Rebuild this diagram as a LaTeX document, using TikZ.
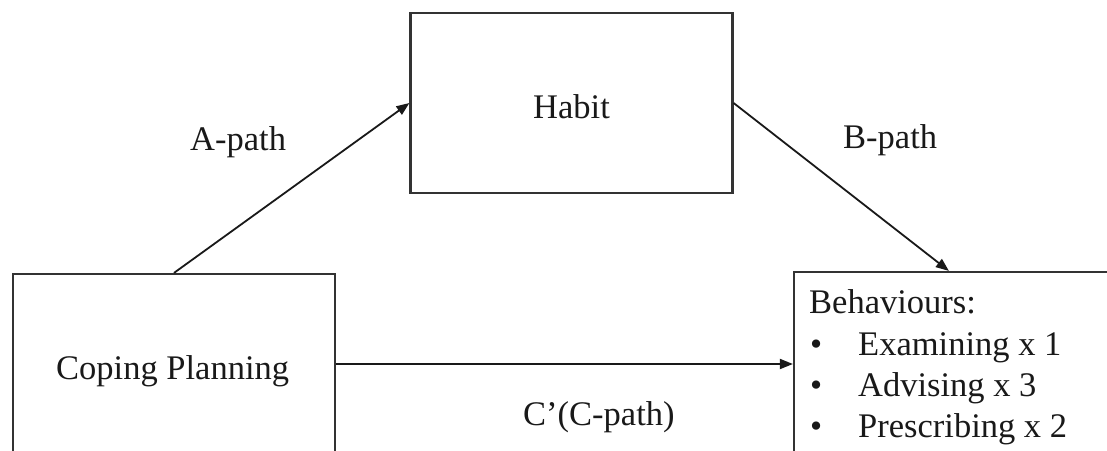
\documentclass[tikz,border=0pt]{standalone}
\usepackage{fontspec}
\setmainfont{Liberation Serif}
\usetikzlibrary{arrows.meta}
\begin{document}
\begin{tikzpicture}[x=1pt,y=-1pt,
  box/.style={draw=black!80,line width=2.2pt,rectangle,inner sep=0pt},
  conn/.style={draw=black!90,line width=1.8pt,-{Triangle[length=13pt,width=10pt]}},
  lbl/.style={inner sep=0pt,anchor=base west,text=black!90,font=\fontsize{34.5}{40}\selectfont}]
\useasboundingbox (0,0) rectangle (1107,450);
\clip (0,0) rectangle (1107,450);
\node[box,minimum width=322pt,minimum height=180pt] (hab) at (571.5,103) {};
\node[box,minimum width=322pt,minimum height=180pt] (cp) at (174,364) {};
\node[box,minimum width=340pt,minimum height=184pt] (beh) at (964,364) {};
\node[lbl] (thab) at (533,118) {Habit};
\node[lbl] (tcp) at (56,379) {Coping Planning};
\node[lbl] (ta) at (190,150) {A-path};
\node[lbl] (tb) at (843,148) {B-path};
\node[lbl] (tc) at (523,425) {C’(C-path)};
\node[lbl] (tbeh) at (809,313) {Behaviours:};
\node[lbl] (b1) at (810,355) {•};
\node[lbl] (i1) at (858,355) {Examining x 1};
\node[lbl] (b2) at (810,396) {•};
\node[lbl] (i2) at (858,396) {Advising x 3};
\node[lbl] (b3) at (810,437) {•};
\node[lbl] (i3) at (858,437) {Prescribing x 2};
\draw[conn] (cp.north) -- (hab.west);
\draw[conn] (hab.east) -- ([xshift=156pt]beh.north west);
\draw[conn] (cp.east) -- (beh.west);
\end{tikzpicture}
\end{document}
